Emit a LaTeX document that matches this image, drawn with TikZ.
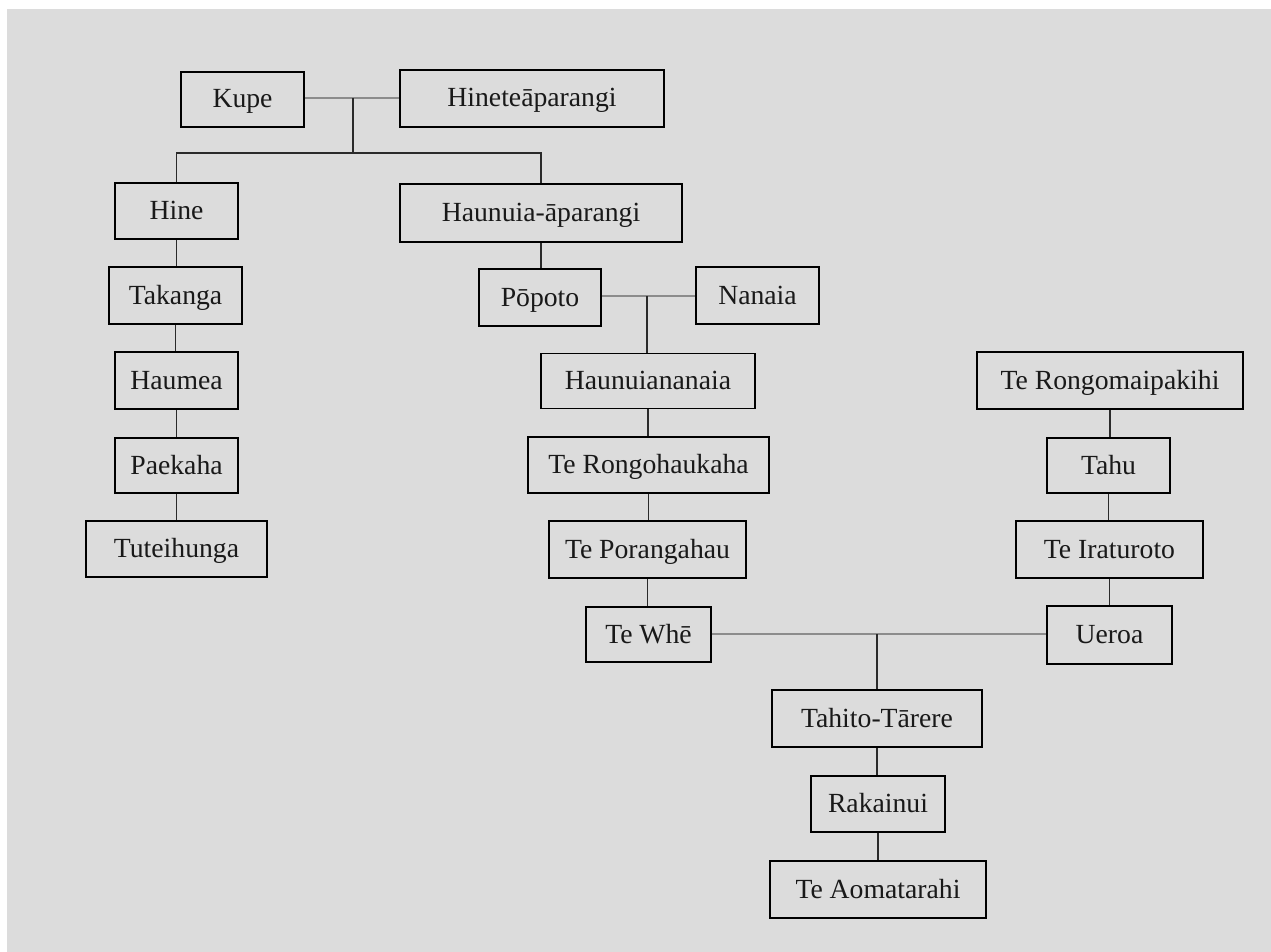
\documentclass[tikz,border=0pt]{standalone}
\usepackage{fontspec}
\setmainfont{Liberation Serif}
\definecolor{bgc}{HTML}{DCDCDC}
\definecolor{spc}{HTML}{8C8C8C}
\definecolor{dsc}{HTML}{2A2A2A}
\tikzset{
  person/.style={draw=black, line width=1.9pt, rectangle, inner sep=0pt,
    text height=22pt, text depth=5pt,
    font=\fontsize{27.7}{30}\selectfont, text=black!90},
  spouse/.style={draw=spc, line width=1.9pt},
  descent/.style={draw=dsc, line width=1.9pt},
}
\newcommand{\pnode}[6]{% name, cx, cy, w, h, text
  \node[person, minimum width=#4pt, minimum height=#5pt] (#1) at (#2,#3) {#6};}
\begin{document}
\begin{tikzpicture}[x=1pt,y=-1pt]
\useasboundingbox (0,0) rectangle (1271,952);
\fill[white] (0,0) rectangle (1271,952);
\fill[bgc] (7,9) rectangle (1271,952);
% generation boxes
\pnode{kupe}{242.5}{99.5}{123}{55}{Kupe}
\pnode{hinet}{532}{98.5}{264}{57}{Hineteāparangi}
\pnode{hine}{176.5}{211}{123}{56}{Hine}
\pnode{haun}{541}{213}{282}{58}{Haunuia-āparangi}
\pnode{takanga}{175.5}{295.5}{133}{57}{Takanga}
\pnode{haumea}{176.5}{380.5}{123}{57}{Haumea}
\pnode{paekaha}{176.5}{465.5}{123}{55}{Paekaha}
\pnode{tute}{176.5}{549}{181}{56}{Tuteihunga}
\pnode{popoto}{540}{297.5}{122}{57}{Pōpoto}
\pnode{nanaia}{757.5}{295.5}{123}{57}{Nanaia}
\pnode{hnn}{648}{381}{214}{55}{Haunuiananaia}
\pnode{trk}{648.5}{465}{241}{56}{Te Rongohaukaha}
\pnode{tpo}{647.5}{549.5}{197}{57}{Te Porangahau}
\pnode{twhe}{648.5}{634.5}{125}{55}{Te Whē}
\pnode{trm}{1110}{380.5}{266}{57}{Te Rongomaipakihi}
\pnode{tahu}{1108.5}{465.5}{123}{55}{Tahu}
\pnode{tira}{1109.5}{549.5}{187}{57}{Te Iraturoto}
\pnode{ueroa}{1109.5}{635}{125}{58}{Ueroa}
\pnode{tahito}{877}{718.5}{210}{57}{Tahito-Tārere}
\pnode{rakai}{878}{804}{134}{56}{Rakainui}
\pnode{teao}{878}{889.5}{216}{57}{Te Aomatarahi}
% junction coordinates
\coordinate (m1) at (353,98);
\coordinate (b1) at (353,153);
\coordinate (m2) at (647,296);
\coordinate (m3) at (877,634);
% spouse lines
\draw[spouse] (kupe.east |- m1) -- (hinet.west |- m1);
\draw[spouse] (popoto.east |- m2) -- (nanaia.west |- m2);
\draw[spouse] (twhe.east |- m3) -- (ueroa.west |- m3);
% descent lines
\draw[descent] (m1) -- (b1);
\draw[descent] (hine.north) |- (b1) -| (haun.north);
\draw[descent] (haun.south) -- (haun.south |- popoto.north);
\draw[descent] (m2) -- (m2 |- hnn.north);
\draw[descent] (m3) -- (m3 |- tahito.north);
\foreach \a/\b in {hine/takanga, takanga/haumea, haumea/paekaha, paekaha/tute,
                   hnn/trk, trk/tpo, tpo/twhe,
                   trm/tahu, tahu/tira, tira/ueroa,
                   tahito/rakai, rakai/teao}
  \draw[descent] (\a.south) -- (\a.south |- \b.north);
\end{tikzpicture}
\end{document}
